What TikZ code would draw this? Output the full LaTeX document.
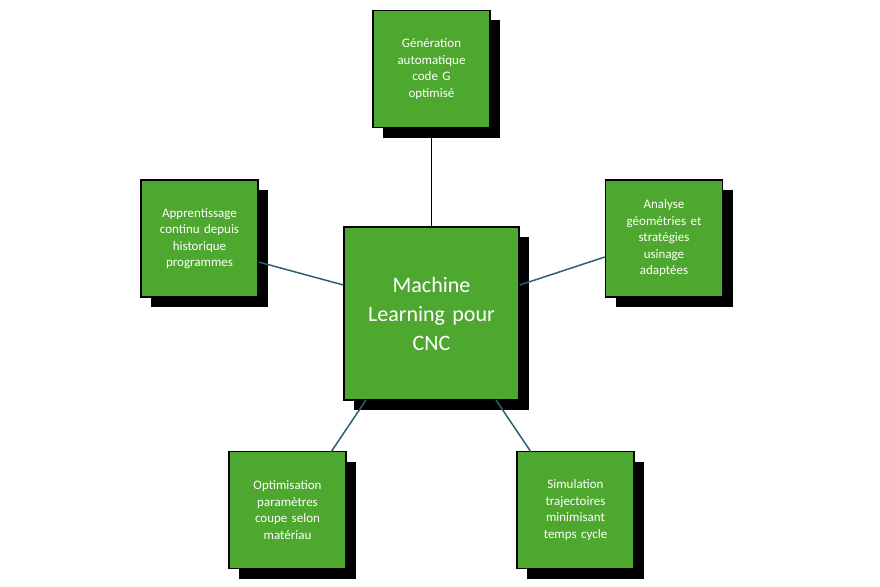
\documentclass[tikz,border=0pt]{standalone}
\usepackage{fontspec}
\setmainfont{Carlito}
\definecolor{boxg}{HTML}{4EA72E}
\definecolor{lnk}{HTML}{2F5F73}
\begin{document}
\begin{tikzpicture}[x=1pt,y=-1pt,
  bx/.style={draw=black,line width=1.3pt,fill=boxg,text=white,minimum width=117pt,minimum height=117pt,align=center,font=\fontsize{13}{16.5}\selectfont,inner sep=2pt,text width=110pt},
  shd/.style={fill=black,minimum width=117pt,minimum height=117pt,inner sep=0pt},
  ln/.style={line width=1.5pt,draw=lnk}]
\useasboundingbox (0,0) rectangle (880,586);
\foreach \x/\y in {431.5/69, 199.5/238.5, 664/238.5, 287.5/510, 575.5/510}{
  \node[shd] at (\x+10,\y+10) {};}
\node[shd,minimum width=175pt,minimum height=173pt] at (441.5,323.5) {};
\node[bx] (t) at (431.5,69) {Génération\\automatique\\code G\\optimisé};
\node[bx] (l) at (199.5,238.5) {Apprentissage\\continu depuis\\historique\\programmes};
\node[bx] (r) at (664,238.5) {Analyse\\géométries et\\stratégies\\usinage\\adaptées};
\node[bx] (bl) at (287.5,510) {Optimisation\\paramètres\\coupe selon\\matériau};
\node[bx] (br) at (575.5,510) {Simulation\\trajectoires\\minimisant\\temps cycle};
\node[bx,minimum width=175pt,minimum height=173pt,text width=165pt,font=\fontsize{22}{29}\selectfont] (c) at (431.5,313.5) {Machine\\Learning pour\\CNC};
\draw[line width=1.5pt] (t.south) -- (c.north);
\draw[ln] (l.east |- 0,262) -- (c.west |- 0,285);
\draw[ln] (c.east |- 0,285) -- (r.west |- 0,257);
\draw[ln] (366,400) -- (331,452);
\draw[ln] (496,400) -- (531,452);
\end{tikzpicture}
\end{document}
